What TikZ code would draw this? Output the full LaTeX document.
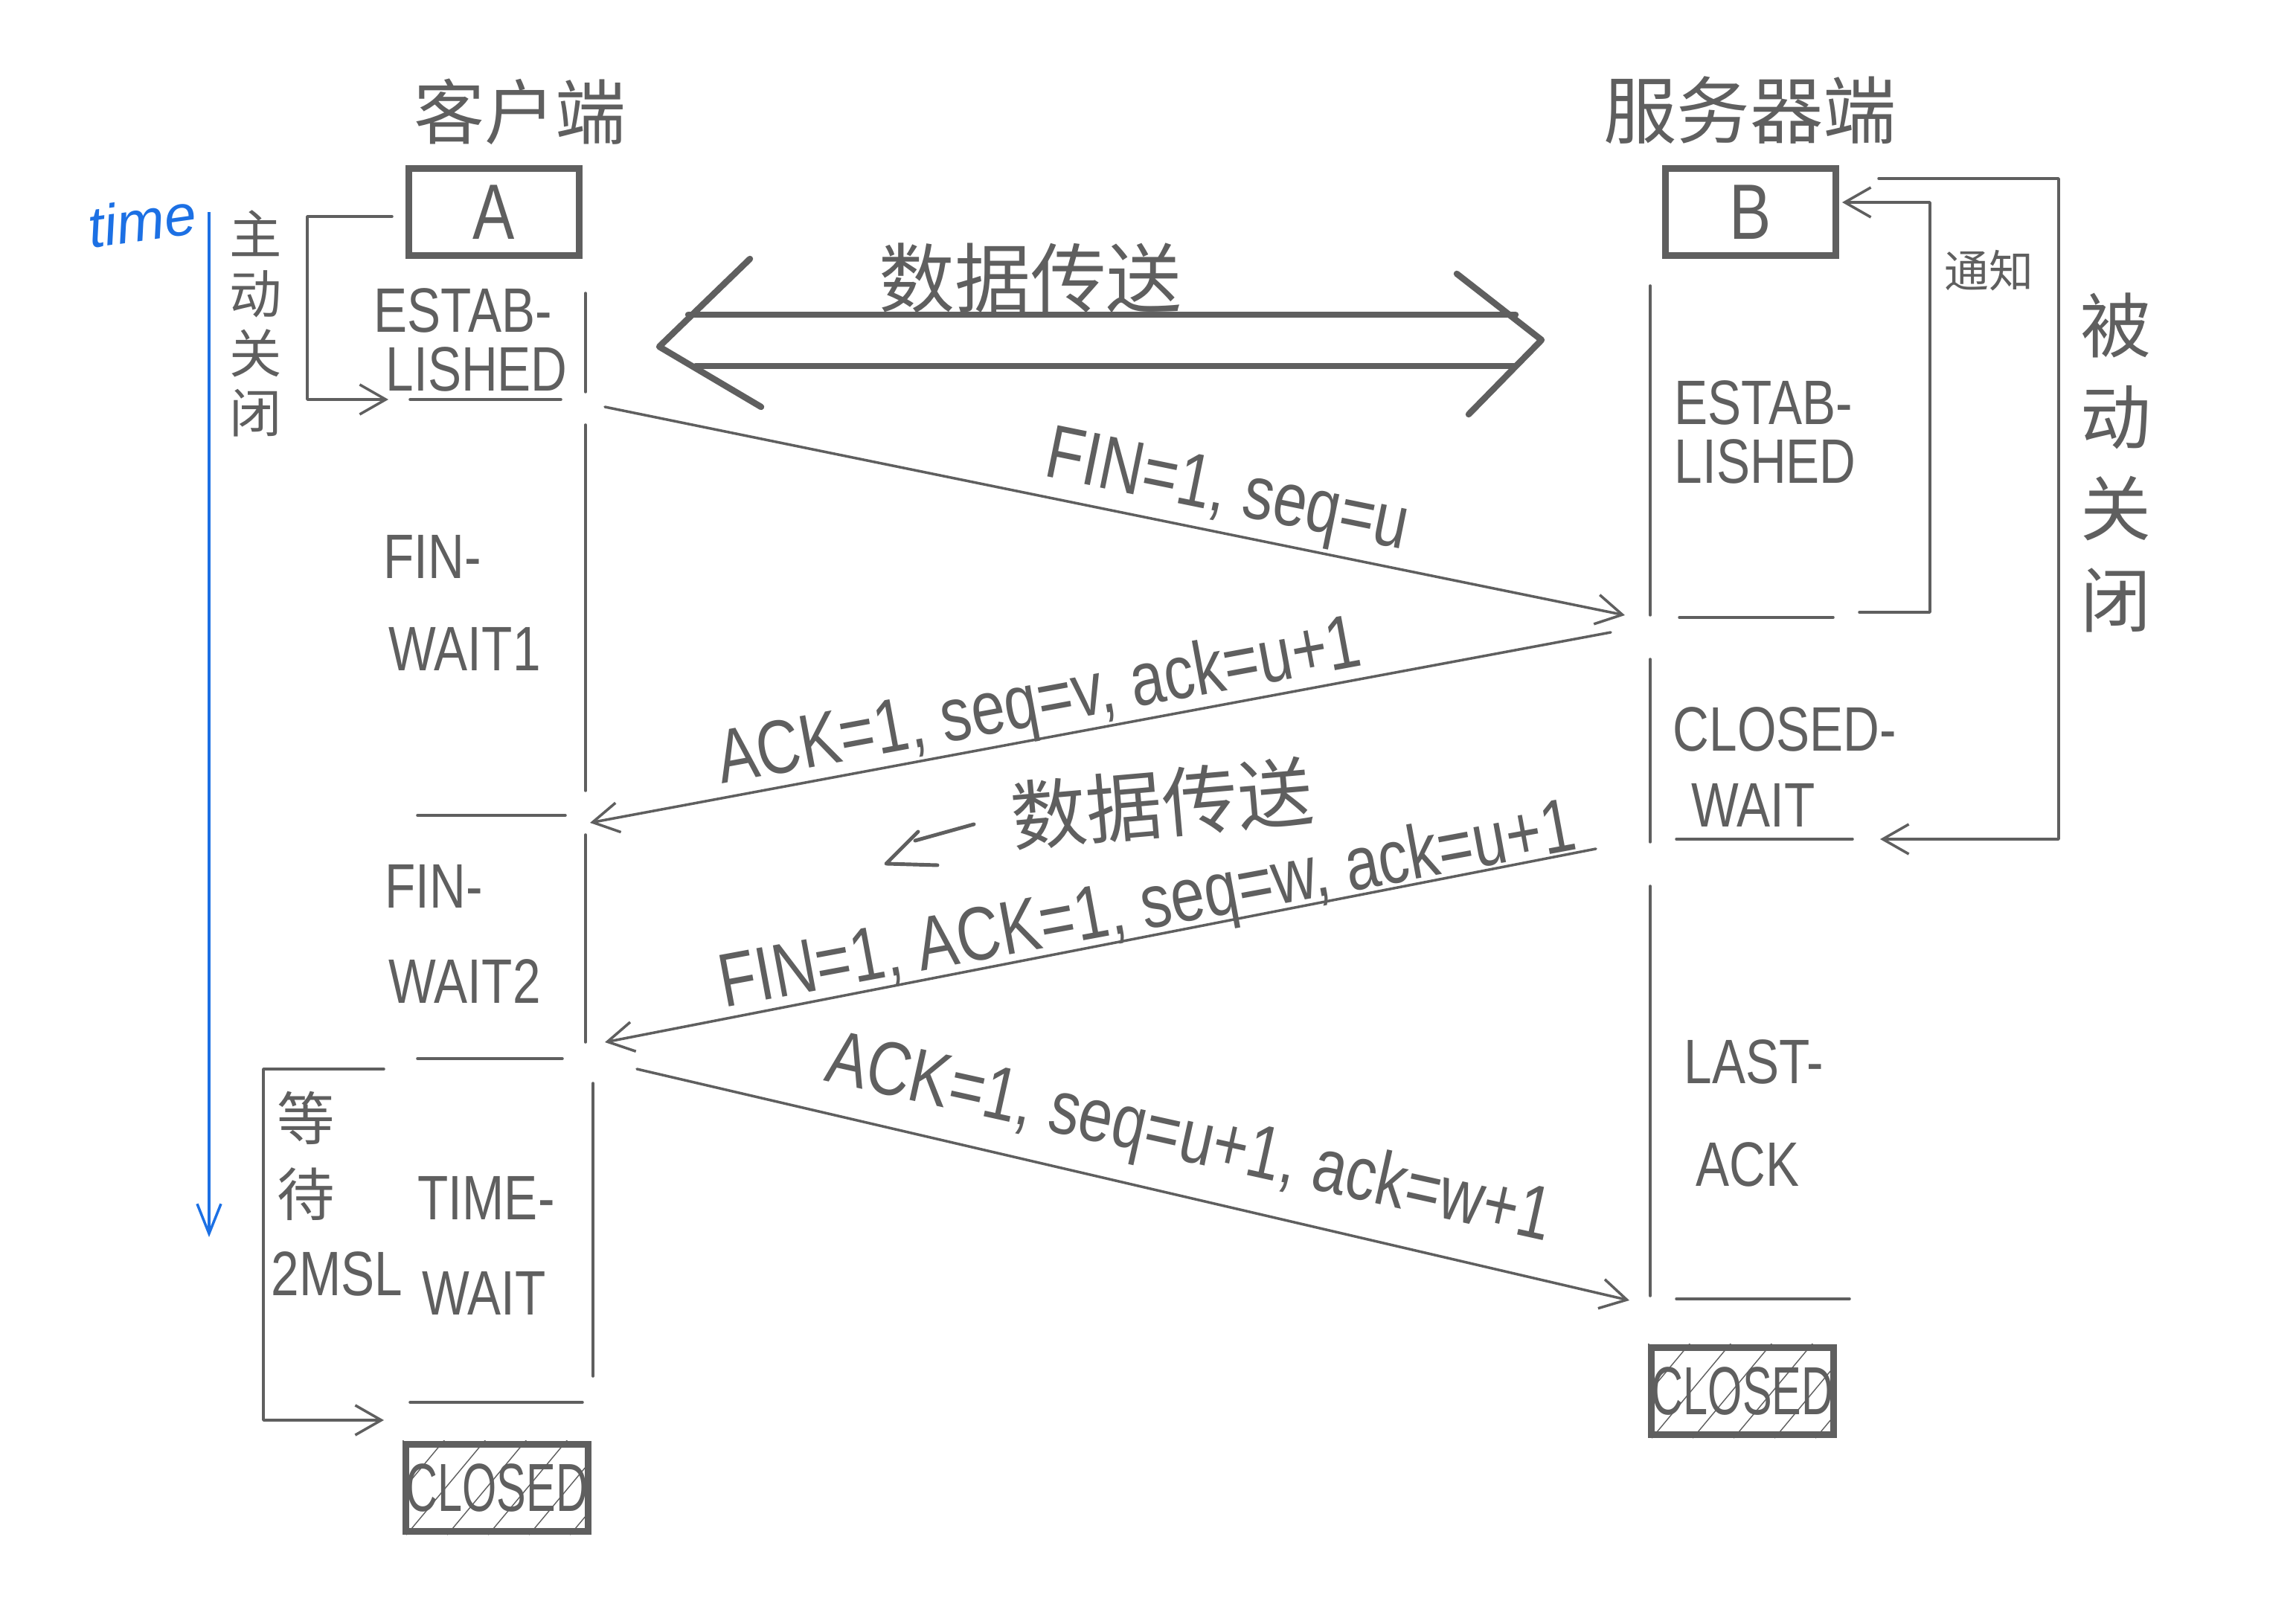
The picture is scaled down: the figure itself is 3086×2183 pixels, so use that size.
\documentclass[tikz,border=0pt]{standalone}
\usepackage{fontspec}
\usetikzlibrary{arrows.meta,calc}
\newfontfamily\cjk{Noto Sans CJK SC}
\newfontfamily\hand[FakeStretch=0.8]{Liberation Sans}
\newfontfamily\handc[FakeStretch=0.65]{Liberation Sans}
\newfontfamily\plainsans{Liberation Sans}
\definecolor{ink}{HTML}{5F5F5F}
\definecolor{timeblue}{RGB}{28,112,228}
\tikzset{
  inkline/.style={draw=ink, line width=1pt, line cap=round, line join=round},
  barb/.style={-{Straight Barb[length=3.5mm,width=4mm,line width=1pt]}},
  thickbox/.style={draw=ink, line width=2.6pt, rectangle, minimum width=2.29cm, minimum height=1.17cm, inner sep=0pt},
  bigarrow/.style={draw=ink, line width=2.4pt, line cap=round, line join=round},
  hatchline/.style={draw=ink, line width=0.4pt},
  statetext/.style={anchor=west, font=\hand\fontsize{24}{28}\selectfont},
  msgtext/.style={font=\hand\fontsize{29}{34}\selectfont},
  cntext/.style={font=\cjk\fontsize{28}{32}\selectfont},
}
\begin{document}
\begin{tikzpicture}[x=0.01cm,y=-0.01cm, every node/.style={text=ink, inner sep=0pt}]
\useasboundingbox (0,0) rectangle (3086,2183);
\fill[white] (0,0) rectangle (3086,2183);

% ---- titles
\node[cntext, font=\cjk\fontsize{27}{30}\selectfont] (tA) at (699,150) {客户端};
\node[cntext] (tB) at (2352,148) {服务器端};

% ---- end-point boxes
\node[thickbox, font=\hand\fontsize{30}{34}\selectfont] (A) at (664,285) {A};
\node[thickbox, font=\hand\fontsize{30}{34}\selectfont] (B) at (2353,285) {B};
\node[thickbox, font=\handc\fontsize{26}{30}\selectfont] (CA) at (668,2000) {CLOSED};
\node[thickbox, font=\handc\fontsize{26}{30}\selectfont] (CB) at (2342,1870) {CLOSED};
\foreach \b in {CA,CB}{
  \begin{scope}
    \clip (\b.south west) rectangle (\b.north east);
    \foreach \i in {-160,-105,...,260}
      \draw[hatchline] ($(\b.south west)+(\i,0)$) -- ++(150,-180);
  \end{scope}
}

% ---- time axis
\node[text=timeblue, font=\plainsans\itshape\fontsize{22}{26}\selectfont, rotate=8] (time) at (191,296) {time};
\coordinate (t0) at (281,285);
\coordinate (t1) at (281,1663);
\draw[timeblue, line width=1pt, -{Straight Barb[length=4mm,width=3.2mm,line width=1pt]}] (t0) -- (t1);

% ---- left lifeline and separators
\draw[inkline] (787,394) -- (787,527);
\draw[inkline] (787,571) -- (787,1063);
\draw[inkline] (787,1122) -- (787,1401);
\draw[inkline] (797,1456) -- (797,1850);
\draw[inkline] (551,537) -- (754,537);
\draw[inkline] (561,1096) -- (760,1096);
\draw[inkline] (561,1423) -- (756,1423);
\draw[inkline] (551,1885) -- (783,1885);

% ---- right lifeline and separators
\draw[inkline] (2218,384) -- (2218,827);
\draw[inkline] (2218,886) -- (2218,1132);
\draw[inkline] (2218,1191) -- (2218,1742);
\draw[inkline] (2257,830) -- (2464,830);
\draw[inkline] (2253,1128) -- (2490,1128);
\draw[inkline] (2253,1746) -- (2486,1746);

% ---- state labels
\node[statetext] (la1) at (502,417) {ESTAB-};
\node[statetext] (la2) at (518,496) {LISHED};
\node[statetext] (lb1) at (515,748) {FIN-};
\node[statetext] (lb2) at (522,872) {WAIT1};
\node[statetext] (lc1) at (517,1191) {FIN-};
\node[statetext] (lc2) at (522,1319) {WAIT2};
\node[statetext] (ld1) at (561,1610) {TIME-};
\node[statetext] (ld2) at (567,1738) {WAIT};
\node[statetext] (ra1) at (2250,541) {ESTAB-};
\node[statetext] (ra2) at (2250,620) {LISHED};
\node[statetext] (rb1) at (2248,980) {CLOSED-};
\node[statetext] (rb2) at (2273,1082) {WAIT};
\node[statetext] (rc1) at (2263,1427) {LAST-};
\node[statetext] (rc2) at (2279,1565) {ACK};

% ---- side notes
\node[align=center, font=\cjk\fontsize{20}{22.8}\selectfont] (zd) at (344,435) {主\\动\\关\\闭};
\node[align=center, font=\cjk\fontsize{27}{35}\selectfont] (bd) at (2844,622) {被\\动\\关\\闭};
\node[align=center, font=\cjk\fontsize{22}{29}\selectfont] (dd) at (411,1554) {等\\待};
\node[statetext] (msl) at (364,1712) {2MSL};
\node[font=\cjk\fontsize{17}{20}\selectfont] (tz) at (2673,364) {通知};

% brackets
\coordinate (zb0) at (527,291);
\coordinate (zb1) at (413,291);
\coordinate (zb2) at (413,537);
\coordinate (zb3) at (522,537);
\draw[inkline, barb] (zb0) -- (zb1) -- (zb2) -- (zb3);
\coordinate (db0) at (516,1437);
\coordinate (db1) at (354,1437);
\coordinate (db2) at (354,1909);
\coordinate (db3) at (516,1909);
\draw[inkline, barb] (db0) -- (db1) -- (db2) -- (db3);
\coordinate (nb0) at (2499,823);
\coordinate (nb1) at (2594,823);
\coordinate (nb2) at (2594,272);
\coordinate (nb3) at (2476,272);
\draw[inkline, barb] (nb0) -- (nb1) -- (nb2) -- (nb3);
\coordinate (pb0) at (2525,240);
\coordinate (pb1) at (2767,240);
\coordinate (pb2) at (2767,1128);
\coordinate (pb3) at (2527,1128);
\draw[inkline, barb] (pb0) -- (pb1) -- (pb2) -- (pb3);

% ---- data transfer double arrow
\draw[bigarrow] (925,423) -- (2037,423);
\draw[bigarrow] (935,492) -- (2037,492);
\draw[bigarrow] (1008,348) -- (886,466) -- (1023,547);
\draw[bigarrow] (1958,368) -- (2072,457) -- (1974,557);
\node[font=\cjk\fontsize{29}{32}\selectfont] (dt) at (1385,374) {数据传送};

% ---- messages
\coordinate (m1s) at (813,547);   \coordinate (m1e) at (2184,827);
\coordinate (m2s) at (2165,850);  \coordinate (m2e) at (793,1106);
\coordinate (m3s) at (2145,1141); \coordinate (m3e) at (813,1401);
\coordinate (m4s) at (856,1437);  \coordinate (m4e) at (2190,1748);
\draw[inkline, barb] (m1s) -- (m1e);
\draw[inkline, barb] (m2s) -- (m2e);
\draw[inkline, barb] (m3s) -- (m3e);
\draw[inkline, barb] (m4s) -- (m4e);
\node[msgtext, rotate=-11.5] (l1) at (1649,665) {FIN=1, seq=u};
\node[msgtext, rotate=10.5] (l2) at (1397,948) {ACK=1, seq=v, ack=u+1};
\node[msgtext, rotate=10.5] (l3) at (1543,1222) {FIN=1, ACK=1, seq=w, ack=u+1};
\node[msgtext, rotate=-12.5] (l4) at (1598,1535) {ACK=1, seq=u+1, ack=w+1};

% ---- half-close data transfer
\node[font=\cjk\fontsize{29}{32}\selectfont, rotate=5] (dt2) at (1562,1080) {数据传送};
\draw[inkline, line width=1.4pt] (1309,1108) -- (1230,1130);
\draw[inkline, line width=1.4pt] (1234,1118) -- (1191,1161) -- (1260,1163);
\end{tikzpicture}
\end{document}
